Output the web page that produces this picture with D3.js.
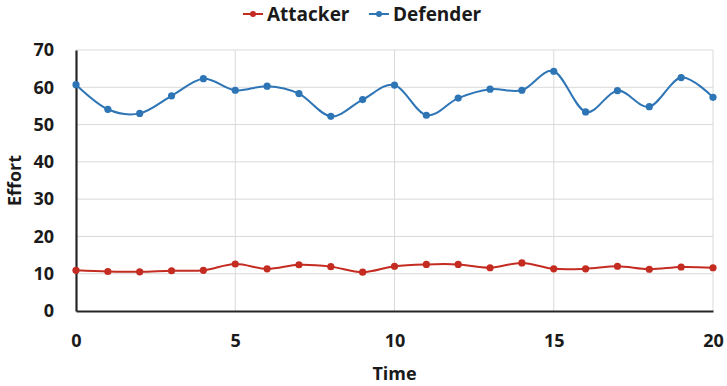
<!DOCTYPE html>
<html><head><meta charset="utf-8">
<script src="https://cdn.jsdelivr.net/npm/d3@7"></script>
<style>body{margin:0;background:#fff;} svg{display:block;}</style>
</head><body>
<svg id="c" width="727" height="386"></svg>
<script>
const time = [0,1,2,3,4,5,6,7,8,9,10,11,12,13,14,15,16,17,18,19,20];
const attacker = [10.9,10.6,10.5,10.8,10.9,12.6,11.3,12.4,11.9,10.4,12.0,12.5,12.5,11.6,12.9,11.3,11.3,12.0,11.2,11.8,11.6];
const defender = [60.7,54.1,53.0,57.7,62.3,59.2,60.3,58.3,52.2,56.7,60.6,52.5,57.1,59.5,59.2,64.3,53.4,59.1,54.8,62.6,57.3];
const xTicks = [0,5,10,15,20];
const yTicks = [0,10,20,30,40,50,60,70];
const seriesNames = ["Attacker","Defender"];
const colors = ["#C42B21","#2E75B6"];

const svg = d3.select("#c");
const font = "'Open Sans', 'Liberation Sans', sans-serif";
const L=76, R=713, T=50, B=311;
const x = d3.scaleLinear().domain([0,20]).range([L,R]);
const y = d3.scaleLinear().domain([0,70]).range([B,T]);

// gridlines
svg.append("g").selectAll("line").data(yTicks.filter(d=>d>0)).join("line")
  .attr("x1",L).attr("x2",R).attr("y1",d=>y(d)).attr("y2",d=>y(d))
  .attr("stroke","#d9d9d9").attr("stroke-width",1);
svg.append("g").selectAll("line").data(xTicks.filter(d=>d>0)).join("line")
  .attr("y1",T).attr("y2",B).attr("x1",d=>x(d)).attr("x2",d=>x(d))
  .attr("stroke","#d9d9d9").attr("stroke-width",1);

// axes
const xAxis = svg.append("g").attr("transform",`translate(0,${B})`)
  .call(d3.axisBottom(x).tickValues(xTicks).tickSize(0).tickPadding(23));
const yAxis = svg.append("g").attr("transform",`translate(${L},0)`)
  .call(d3.axisLeft(y).tickValues(yTicks).tickSize(0).tickPadding(22));
[xAxis,yAxis].forEach(a=>{
  a.select(".domain").attr("stroke","#262626").attr("stroke-width",2.2);
  a.selectAll("text").attr("font-family",font).attr("font-weight","bold")
   .attr("font-size",18).attr("fill","#1a1a1a");
});

svg.append("text").attr("x",(L+R)/2).attr("y",380).attr("text-anchor","middle")
  .attr("font-family",font).attr("font-weight","bold").attr("font-size",18).attr("fill","#1a1a1a").text("Time");
svg.append("text").attr("transform",`translate(21,${(T+B)/2}) rotate(-90)`).attr("text-anchor","middle")
  .attr("font-family",font).attr("font-weight","bold").attr("font-size",18).attr("fill","#1a1a1a").text("Effort");

const line = d3.line().x((d,i)=>x(time[i])).y(d=>y(d)).curve(d3.curveCardinal.tension(0));
[attacker,defender].forEach((s,k)=>{
  svg.append("path").attr("d",line(s)).attr("fill","none").attr("stroke",colors[k]).attr("stroke-width",2);
  svg.append("g").selectAll("circle").data(s).join("circle")
    .attr("cx",(d,i)=>x(time[i])).attr("cy",d=>y(d)).attr("r",3.6).attr("fill",colors[k]);
});

// legend
const legX = [243,369];
seriesNames.forEach((n,k)=>{
  const g = svg.append("g").attr("transform",`translate(${legX[k]},14)`);
  g.append("line").attr("x1",0).attr("x2",20).attr("stroke",colors[k]).attr("stroke-width",2);
  g.append("circle").attr("cx",10).attr("r",3).attr("fill",colors[k]);
  g.append("text").attr("x",24).attr("y",7).attr("font-family",font).attr("font-weight","bold")
   .attr("font-size",19).attr("fill","#1a1a1a").text(n);
});
</script>
</body></html>
